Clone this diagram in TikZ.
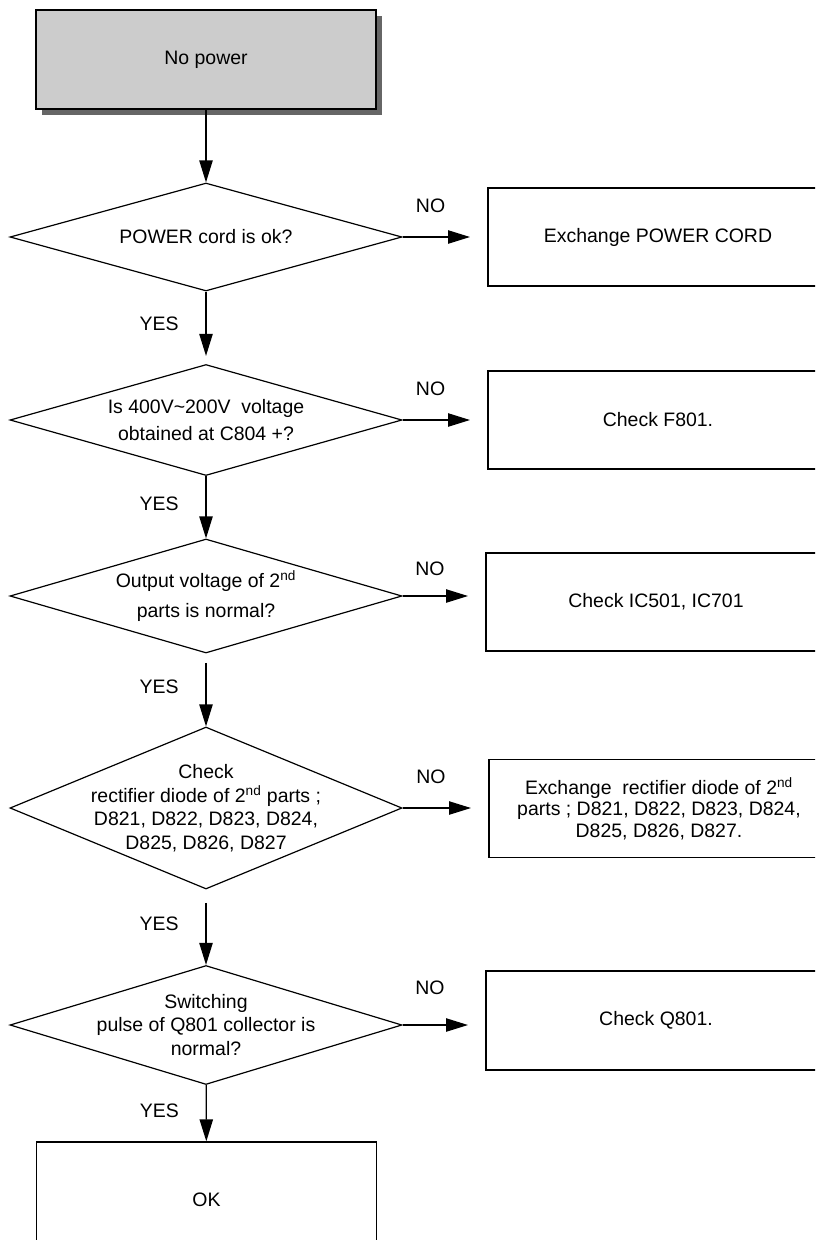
\documentclass[tikz,border=0pt]{standalone}
\usepackage{fontspec}
\setmainfont{Liberation Sans}
\usetikzlibrary{shapes.geometric,arrows.meta,shadows}

\tikzset{
  query/.style = {draw, line width=0.9pt, shape=diamond, aspect=3.6, inner sep=-20pt,
                  minimum width=294pt, align=center},
  fixbox/.style = {draw, line width=1pt, minimum width=255pt, minimum height=73.5pt, align=center},
  lbl/.style = {inner sep=0pt},
  flow/.style = {line width=1pt, -{Triangle[length=16.5pt,width=10pt]}},
}

\begin{document}
\begin{tikzpicture}[x=0.75pt, y=-0.75pt, font=\fontsize{14.6pt}{17.6pt}\selectfont]
        \useasboundingbox (0,0) rectangle (815,1240);
        \clip (0,0) rectangle (815,1240);
        \node[draw, line width=1.4pt, fill=black!20, minimum width=255pt, minimum height=74.25pt,
              drop shadow={shadow xshift=4.5pt, shadow yshift=-4.5pt, fill=black!60, opacity=1}]
              (start) at (206,59.5) {No power};
        \node[query, minimum height=81pt]    (q1) at (206,237) {POWER cord is ok?};
        \node[query, minimum height=83.25pt] (q2) at (206,420) {Is 400V\textasciitilde 200V\ \ voltage\\[2.4pt] obtained at C804 +?};
        \node[query, minimum height=85.5pt]  (q3) at (206,596) {Output voltage of 2\textsuperscript{nd}\\[5pt] parts is normal?};
        \node[query, minimum height=121.5pt] (q4) at (206,808) {Check\\ rectifier diode of 2\textsuperscript{nd} parts ;\\ D821, D822, D823, D824,\\ D825, D826, D827};
        \node[query, minimum height=89.25pt] (q5) at (206,1025) {Switching\\ pulse of Q801 collector is\\ normal?};
        \node[fixbox] (fix1) at (658,237) {Exchange POWER CORD};
        \node[fixbox] (fix2) at (658,420) {Check F801.};
        \node[fixbox] (fix3) at (656,602) {Check IC501, IC701};
        \node[fixbox] (fix4) at (659,808.5) {Exchange\ \ rectifier diode of 2\textsuperscript{nd}\\[-1.6pt] parts ; D821, D822, D823, D824,\\[-1.6pt] D825, D826, D827.};
        \node[fixbox, minimum height=74.25pt] (fix5) at (656,1020.5) {Check Q801.};
        \node[fixbox, minimum height=87pt] (ok) at (206.5,1200) {OK};
        % yes branch
        \draw[flow] (start) -- (q1);
        \draw[flow, shorten >=6pt] (q1) -- node[lbl, left=20pt, pos=0.45] {YES} (q2);
        \draw[flow] (q2) -- node[lbl, left=20pt, pos=0.45] {YES} (q3);
        \draw[flow, shorten <=7pt] (q3) -- node[lbl, left=20pt, pos=0.45] {YES} (q4);
        \draw[flow, shorten <=10pt] (q4) -- node[lbl, left=20pt, pos=0.45] {YES} (q5);
        \draw[flow] (q5) -- node[lbl, left=20pt, pos=0.45] {YES} (ok);
        % no branch
        \draw[flow, shorten >=13pt] (q1.east) -- node[lbl, above=18pt, pos=0.33] {NO} (q1.east -| fix1.west);
        \draw[flow, shorten >=13pt] (q2.east) -- node[lbl, above=18pt, pos=0.33] {NO} (q2.east -| fix2.west);
        \draw[flow, shorten >=13pt] (q3.east) -- node[lbl, above=15pt, pos=0.33] {NO} (q3.east -| fix3.west);
        \draw[flow, shorten >=13pt] (q4.east) -- node[lbl, above=18pt, pos=0.33] {NO} (q4.east -| fix4.west);
        \draw[flow, shorten >=13pt] (q5.east) -- node[lbl, above=22pt, pos=0.33] {NO} (q5.east -| fix5.west);
    \end{tikzpicture}
\end{document}
